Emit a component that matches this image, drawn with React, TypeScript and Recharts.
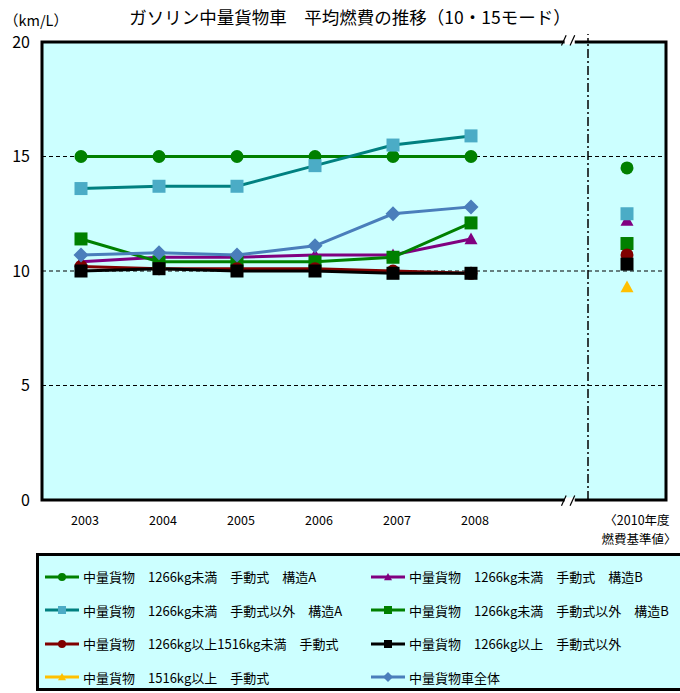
import { ComposedChart, Line, XAxis, YAxis, CartesianGrid, ReferenceLine, ReferenceArea } from 'recharts';

// 2003..2008, then the 2010 fuel-economy standard value as the last entry
const years = ['2003', '2004', '2005', '2006', '2007', '2008'];
const standardLabel = ['〈2010年度', '燃費基準値〉'];
const yTicks = [0, 5, 10, 15, 20];

const mtLightA = [15, 15, 15, 15, 15, 15, 14.5];
const mtLightB = [10.4, 10.6, 10.6, 10.7, 10.7, 11.4, 12.2];
const atLightA = [13.6, 13.7, 13.7, 14.6, 15.5, 15.9, 12.5];
const atLightB = [11.4, 10.4, 10.4, 10.4, 10.6, 12.1, 11.2];
const mtMid = [10.2, 10.1, 10.1, 10.1, 10.0, 9.9, 10.7];
const atHeavy = [10.0, 10.1, 10.0, 10.0, 9.9, 9.9, 10.3];
const mtHeavy = [null, null, null, null, null, null, 9.3];
const allTrucks = [10.7, 10.8, 10.7, 11.1, 12.5, 12.8, null];

const FONT = '"Noto Sans CJK JP", "Noto Sans", sans-serif';
const BG = '#CCFFFF';

type Shape = 'circle' | 'square' | 'triangle' | 'diamond';

const series = [
    { key: 's1', name: '中量貨物　1266kg未満　手動式　構造A', values: mtLightA, stroke: '#008000', fill: '#008000', shape: 'circle' as Shape },
    { key: 's2', name: '中量貨物　1266kg未満　手動式　構造B', values: mtLightB, stroke: '#800080', fill: '#800080', shape: 'triangle' as Shape },
    { key: 's3', name: '中量貨物　1266kg未満　手動式以外　構造A', values: atLightA, stroke: '#008080', fill: '#4BACC6', shape: 'square' as Shape },
    { key: 's4', name: '中量貨物　1266kg未満　手動式以外　構造B', values: atLightB, stroke: '#008000', fill: '#008000', shape: 'square' as Shape },
    { key: 's5', name: '中量貨物　1266kg以上1516kg未満　手動式', values: mtMid, stroke: '#800000', fill: '#800000', shape: 'circle' as Shape },
    { key: 's6', name: '中量貨物　1266kg以上　手動式以外', values: atHeavy, stroke: '#000000', fill: '#000000', shape: 'square' as Shape },
    { key: 's7', name: '中量貨物　1516kg以上　手動式', values: mtHeavy, stroke: '#FFC000', fill: '#FFC000', shape: 'triangle' as Shape },
    { key: 's8', name: '中量貨物車全体', values: allTrucks, stroke: '#4A7EBB', fill: '#4A7EBB', shape: 'diamond' as Shape },
];

const row = (x: number, i: number) => {
    const r: Record<string, number | null> = { x };
    series.forEach((s) => { r[s.key] = s.values[i]; });
    return r;
};

const data = [
    ...years.map((_, i) => row(i, i)),
    { x: 6 }, // gap so lines stop before the standard value
    row(7, years.length),
];

const Marker = ({ cx, cy, shape, fill, size = 6.5 }: { cx: number; cy: number; shape: Shape; fill: string; size?: number }) => {
    if (shape === 'circle') return <circle cx={cx} cy={cy} r={size} fill={fill} />;
    if (shape === 'square') return <rect x={cx - size} y={cy - size} width={size * 2} height={size * 2} fill={fill} />;
    if (shape === 'triangle')
        return <polygon points={`${cx},${cy - size} ${cx + size},${cy + size * 0.8} ${cx - size},${cy + size * 0.8}`} fill={fill} />;
    return <polygon points={`${cx},${cy - size - 1} ${cx + size + 1},${cy} ${cx},${cy + size + 1} ${cx - size - 1},${cy}`} fill={fill} />;
};

const XTick = ({ x, y, payload }: any) => {
    if (payload.value === 7) {
        return (
            <text x={x + 10} y={y + 2} textAnchor="middle" fontSize={12.5} fontFamily={FONT} fill="#000">
                <tspan x={x + 10} dy={21}>{standardLabel[0]}</tspan>
                <tspan x={x + 12} dy={19}>{standardLabel[1]}</tspan>
            </text>
        );
    }
    return (
        <text x={x + 4} y={y + 23} textAnchor="middle" fontSize={12.5} fontFamily={FONT} fill="#000">
            {years[payload.value]}
        </text>
    );
};

const LegendBox = () => (
    <div
        style={{
            position: 'absolute', left: 36, top: 553, width: 660, height: 132,
            background: BG, border: '3px solid #000', fontFamily: FONT, fontSize: 13,
        }}
    >
        {series.map((s, i) => {
            const col = i % 2;
            const r = Math.floor(i / 2);
            return (
                <div key={s.key} style={{ position: 'absolute', left: col === 0 ? 4 : 330, top: 11 + r * 33.5, display: 'flex', alignItems: 'center', whiteSpace: 'pre' }}>
                    <svg width={38} height={12}>
                        <line x1={2} y1={6} x2={36} y2={6} stroke={s.stroke} strokeWidth={3} />
                        <Marker cx={19} cy={6} shape={s.shape} fill={s.fill} size={4} />
                    </svg>
                    <span style={{ marginLeft: 2 }}>{s.name}</span>
                </div>
            );
        })}
    </div>
);

export default function App() {
    return (
        <div style={{ position: 'absolute', left: 0, top: 0, width: 680, height: 693, overflow: 'hidden', background: '#fff' }}>
            <div style={{ position: 'absolute', left: 0, top: 4, width: 700, textAlign: 'center', fontFamily: FONT, fontSize: 17.5 }}>
                ガソリン中量貨物車　平均燃費の推移（10・15モード）
            </div>
            <div style={{ position: 'absolute', left: 4, top: 9, fontFamily: FONT, fontSize: 14.5 }}>（km/L）</div>
            <ComposedChart width={680} height={693} data={data} margin={{ top: 42, right: 14, bottom: 163, left: 0 }}>
                <CartesianGrid vertical={false} fill={BG} stroke="#000" strokeDasharray="4 3" strokeWidth={1.2} />
                <XAxis
                    dataKey="x"
                    type="number"
                    domain={[-0.5, 7.5]}
                    ticks={[0, 1, 2, 3, 4, 5, 7]}
                    height={30}
                    axisLine={false}
                    tickLine={false}
                    tickSize={0}
                    tick={<XTick />}
                    interval={0}
                />
                <YAxis
                    type="number"
                    domain={[0, 20]}
                    ticks={yTicks}
                    width={42}
                    axisLine={false}
                    tickLine={false}
                    tickSize={0}
                    tickMargin={12}
                    tick={{ fontSize: 16, fill: '#000', fontFamily: FONT }}
                />
                <ReferenceLine x={6.5} stroke="#000" strokeWidth={1.5} strokeDasharray="9 3 2 3" />
                <ReferenceLine segment={[{ x: 6.5, y: 20 }, { x: 6.5, y: 20.35 }]} stroke="#000" strokeWidth={1.5} strokeDasharray="4 3" ifOverflow="visible" />
                {series.map((s) => (
                    <Line
                        key={s.key}
                        dataKey={s.key}
                        stroke={s.stroke}
                        strokeWidth={3}
                        isAnimationActive={false}
                        connectNulls={false}
                        activeDot={false}
                        dot={(p: any) => {
                            if (p.value == null || p.cy == null) return <g key={p.key} />;
                            return (
                                <g key={p.key}>
                                    <Marker cx={p.cx} cy={p.cy} shape={s.shape} fill={s.fill} />
                                </g>
                            );
                        }}
                    />
                ))}
                <ReferenceArea x1={-0.5} x2={7.5} y1={0} y2={20} fill="none" stroke="#000" strokeWidth={3} ifOverflow="visible" />
                <ReferenceLine segment={[{ x: 6.2, y: 20 }, { x: 6.33, y: 20 }]} stroke="#fff" strokeWidth={5} ifOverflow="visible" />
                <ReferenceLine segment={[{ x: 6.2, y: 0 }, { x: 6.33, y: 0 }]} stroke="#fff" strokeWidth={5} ifOverflow="visible" />
                <ReferenceLine segment={[{ x: 6.16, y: 19.85 }, { x: 6.22, y: 20.3 }]} stroke="#000" strokeWidth={1.2} ifOverflow="visible" />
                <ReferenceLine segment={[{ x: 6.27, y: 19.85 }, { x: 6.33, y: 20.3 }]} stroke="#000" strokeWidth={1.2} ifOverflow="visible" />
                <ReferenceLine segment={[{ x: 6.16, y: -0.25 }, { x: 6.22, y: 0.2 }]} stroke="#000" strokeWidth={1.2} ifOverflow="visible" />
                <ReferenceLine segment={[{ x: 6.27, y: -0.25 }, { x: 6.33, y: 0.2 }]} stroke="#000" strokeWidth={1.2} ifOverflow="visible" />
            </ComposedChart>
            <LegendBox />
        </div>
    );
}
